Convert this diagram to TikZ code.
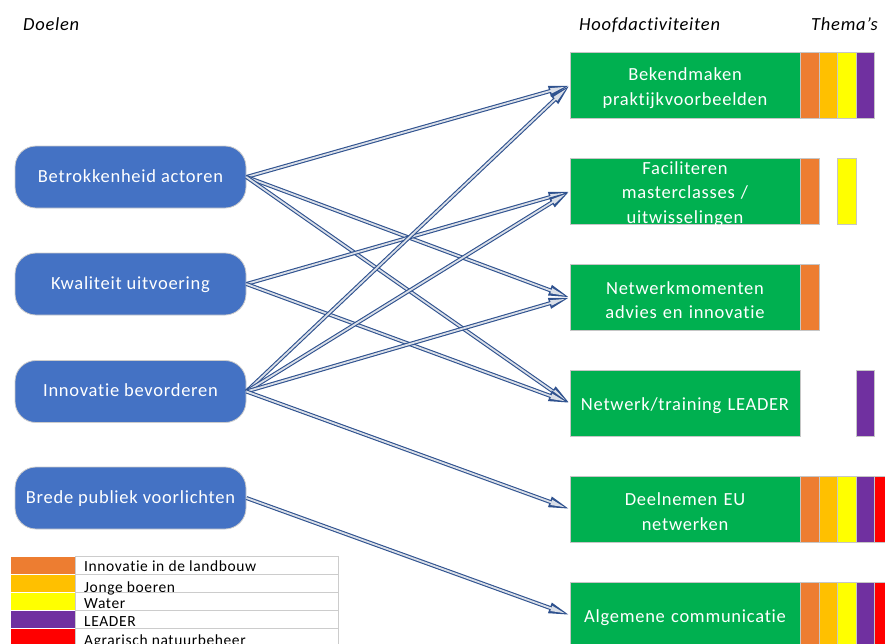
\documentclass[tikz,border=0pt]{standalone}
\usepackage{fontspec}
\setmainfont[LetterSpace=4, Ligatures=NoCommon]{Carlito}
\usetikzlibrary{arrows.meta}
\definecolor{goalblue}{HTML}{4472C4}
\definecolor{actgreen}{HTML}{00B050}
\definecolor{linkblue}{HTML}{2F528F}
\definecolor{linkfill}{HTML}{DADFE8}
\definecolor{thO}{HTML}{ED7D31}
\definecolor{thG}{HTML}{FFC000}
\definecolor{thY}{HTML}{FFFF00}
\definecolor{thP}{HTML}{7030A0}
\definecolor{thR}{HTML}{FF0000}
\tikzset{
  goal/.style={rectangle, rounded corners=21pt, fill=goalblue, draw=gray!40, line width=0.8pt,
    minimum width=231pt, minimum height=62pt, text=white, font=\fontsize{18.5}{20}\selectfont, text depth=2pt},
  act/.style={rectangle, fill=actgreen, draw=gray!45, line width=0.8pt,
    minimum width=230pt, minimum height=66pt, inner sep=0pt},
  acttext/.style={text=white, align=center, text width=226pt, inner sep=0pt,
    font=\fontsize{18.5}{24.5}\selectfont, yshift=-2.5pt},
  theme/.style={rectangle, draw=gray!45, line width=0.6pt, minimum width=18.5pt, minimum height=66pt, inner sep=0pt},
  hdr/.style={font=\fontsize{18.5}{20}\selectfont\itshape, anchor=base west, inner sep=0pt},
  conn/.style={draw=linkblue, line width=4pt, -{Triangle[length=21pt,width=10pt]},
    postaction={draw=linkfill, line width=1.8pt, -{Triangle[length=15pt,width=5pt]}, shorten >=4.5pt}},
  legbox/.style={rectangle, minimum width=65pt, minimum height=18pt, inner sep=0pt, draw=white, line width=0.5pt},
  legtxt/.style={rectangle, minimum width=263pt, minimum height=18pt, inner sep=0pt, draw=gray!40, line width=0.6pt},
  legname/.style={anchor=base west, font=\fontsize{15.5}{16}\selectfont, inner sep=0pt},
}
\begin{document}
\begin{tikzpicture}[x=1pt,y=-1pt]
\useasboundingbox (0,0) rectangle (885,643);
% headers
\node[hdr] (hd) at (23,30) {Doelen};
\node[hdr] (hh) at (579,30) {Hoofdactiviteiten};
\node[hdr] (ht) at (811,30) {Thema’s};
% goals
\node[goal] (g1) at (130.5,177) {Betrokkenheid actoren};
\node[goal] (g2) at (130.5,284) {Kwaliteit uitvoering};
\node[goal] (g3) at (130.5,391.5) {Innovatie bevorderen};
\node[goal] (g4) at (130.5,498) {Brede publiek voorlichten};
% activities
\node[act] (a1) at (685,85.5) {};
\node[act] (a2) at (685,191.5) {};
\node[act] (a3) at (685,297.5) {};
\node[act] (a4) at (685,403) {};
\node[act] (a5) at (685,509) {};
\node[act] (a6) at (685,615) {};
\node[acttext] (a1t) at (a1) {Bekendmaken\\praktijkvoorbeelden};
\node[acttext] (a2t) at (a2) {Faciliteren\\masterclasses /\\uitwisselingen};
\node[acttext] (a3t) at (a3) {Netwerkmomenten\\advies en innovatie};
\node[acttext] (a4t) at (a4) {Netwerk/training LEADER};
\node[acttext] (a5t) at (a5) {Deelnemen EU\\netwerken};
\node[acttext] (a6t) at (a6) {Algemene communicatie};
% themes
\foreach \r/\y in {1/85.5,5/509,6/615}{
  \node[theme, fill=thO] (t\r o) at (810,\y) {};
  \node[theme, fill=thG] (t\r g) at (828.5,\y) {};
  \node[theme, fill=thY] (t\r y) at (847,\y) {};
  \node[theme, fill=thP] (t\r p) at (865.5,\y) {};
}
\foreach \r/\y in {5/509,6/615}{
  \node[theme, fill=thR] (t\r r) at (884,\y) {};
}
\node[theme, fill=thO] (t2o) at (810,191.5) {};
\node[theme, fill=thY] (t2y) at (847,191.5) {};
\node[theme, fill=thO] (t3o) at (810,297.5) {};
\node[theme, fill=thP] (t4p) at (865.5,403) {};
% connectors
\draw[conn] (g1.east) -- (a1.west);
\draw[conn] (g1.east) -- (a3.west);
\draw[conn] (g1.east) -- (a4.west);
\draw[conn] (g2.east) -- (a2.west);
\draw[conn] (g2.east) -- (a4.west);
\draw[conn] (g3.east) -- (a1.west);
\draw[conn] (g3.east) -- (a2.west);
\draw[conn] (g3.east) -- (a3.west);
\draw[conn] (g3.east) -- (a5.west);
\draw[conn] (g4.east) -- (a6.west);
% legend
\node[legbox, fill=thO] (l1) at (42.5,565) {};
\node[legbox, fill=thG] (l2) at (42.5,583.5) {};
\node[legbox, fill=thY] (l3) at (42.5,601.5) {};
\node[legbox, fill=thP] (l4) at (42.5,619.5) {};
\node[legbox, fill=thR] (l5) at (42.5,637.5) {};
\node[legtxt, anchor=west] (m1) at (l1.east) {};
\node[legtxt, anchor=west] (m2) at (l2.east) {};
\node[legtxt, anchor=west] (m3) at (l3.east) {};
\node[legtxt, anchor=west] (m4) at (l4.east) {};
\node[legtxt, anchor=west] (m5) at (l5.east) {};
\node[legname] (n1) at (84,571) {Innovatie in de landbouw};
\node[legname] (n2) at (84,592) {Jonge boeren};
\node[legname] (n3) at (84,608) {Water};
\node[legname] (n4) at (84,626) {LEADER};
\node[legname] (n5) at (84,645) {Agrarisch natuurbeheer};
\end{tikzpicture}
\end{document}
